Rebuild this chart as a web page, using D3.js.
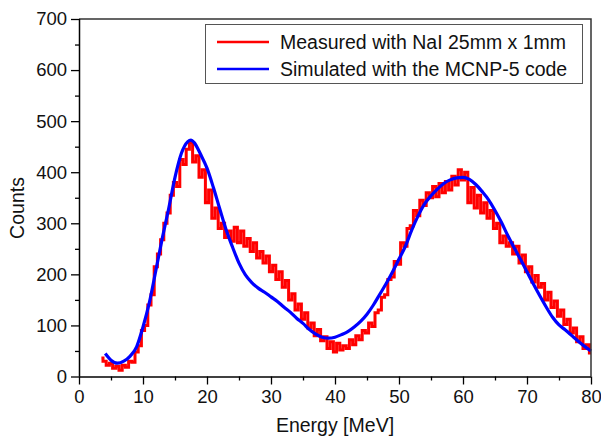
<!DOCTYPE html>
<html><head><meta charset="utf-8">
<script src="https://cdn.jsdelivr.net/npm/d3@7"></script>
<style>body{margin:0;background:#fff}svg{display:block}text{font-family:"Liberation Sans",Arial,sans-serif}</style>
</head><body>
<svg id="c" width="601" height="437"></svg>
<script>
// Measured (red), 0.5 MeV bins starting at 3.5 MeV
const measuredStart = 3.5, measuredStep = 0.5;
const measuredCounts = [36,30,22,26,16,20,12,22,18,30,28,48,60,90,100,140,160,215,240,268,300,320,355,380,372,425,415,445,458,420,432,390,405,340,365,310,330,290,300,272,285,265,292,262,285,255,270,245,262,232,245,222,236,205,218,190,205,175,188,150,162,130,142,112,125,95,105,80,92,70,78,55,68,48,65,52,60,55,72,62,80,72,90,85,105,98,125,130,155,160,190,195,225,220,262,255,290,295,325,315,345,335,360,350,372,352,378,360,382,365,392,375,405,385,400,340,370,330,355,320,340,310,325,290,300,262,275,255,262,240,255,222,238,205,215,185,198,175,182,150,165,135,148,118,130,102,112,85,95,68,78,55,62,46];
// Simulated (blue)
const simEnergy = [4.1,5,6,7,8,9,10,11,12,13,14,15,16,17,17.5,18,19,20,21,22,23,24,25,26,27,28,29,30,31,32,33,34,35,36,37,38,39,40,41,42,43,44,45,46,47,48,49,50,51,52,53,54,55,56,57,58,59,60,61,62,63,64,65,66,67,68,69,70,71,72,73,74,75,76,77,78,79,80];
const simCounts = [45,32,26,30,40,58,97,145,207,270,328,390,437,460,463,458,435,408,370,328,287,253,222,199,184,173,165,156,147,136,126,114,104,92,83,77,75,77,82,88,97,108,122,140,161,182,205,230,255,287,315,338,354,367,378,385,389,390,386,376,362,346,325,302,276,252,229,205,181,158,136,116,101,91,80,69,59,50];
const xTicks = [0,10,20,30,40,50,60,70,80];
const yTicks = [0,100,200,300,400,500,600,700];
const legendLabels = ["Measured with NaI 25mm x 1mm","Simulated with the MCNP-5 code"];
const colors = ["#ff0000","#0000ff"];

const svg = d3.select("#c");
const L=79, R=591, T=19, B=376.5;
const x = d3.scaleLinear().domain([0,80]).range([L,R]);
const y = d3.scaleLinear().domain([0,700]).range([B,T]);

const measured = measuredCounts.map((c,i)=>({e:measuredStart+i*measuredStep,c}));
const sim = simEnergy.map((e,i)=>({e,c:simCounts[i]}));

const g = svg.append("g");
g.append("path").datum(measured)
  .attr("d", d3.line().x(d=>x(d.e)).y(d=>y(d.c)).curve(d3.curveStep))
  .attr("fill","none").attr("stroke",colors[0]).attr("stroke-width",3).attr("stroke-linejoin","miter");
g.append("path").datum(sim)
  .attr("d", d3.line().x(d=>x(d.e)).y(d=>y(d.c)).curve(d3.curveMonotoneX))
  .attr("fill","none").attr("stroke",colors[1]).attr("stroke-width",3.2);

// frame
svg.append("path").attr("d",`M${L},${T}H${R}V${B}`).attr("fill","none").attr("stroke","#333").attr("stroke-width",1.5);

// axes
const xa = svg.append("g").attr("transform",`translate(0,${B})`)
  .call(d3.axisBottom(x).tickValues(xTicks).tickSize(8).tickPadding(5).tickFormat(d3.format("d")));
svg.append("g").attr("transform",`translate(0,${B})`)
  .call(d3.axisBottom(x).tickValues(d3.range(5,80,10)).tickSize(4).tickFormat(""))
  .call(s=>s.select(".domain").remove());
const ya = svg.append("g").attr("transform",`translate(${L},0)`)
  .call(d3.axisLeft(y).tickValues(yTicks).tickSize(8).tickPadding(4).tickFormat(d3.format("d")));
svg.append("g").attr("transform",`translate(${L},0)`)
  .call(d3.axisLeft(y).tickValues(d3.range(50,700,100)).tickSize(4).tickFormat(""))
  .call(s=>s.select(".domain").remove());
svg.selectAll(".domain").attr("stroke","#000").attr("stroke-width",1.5);
svg.selectAll(".tick line").attr("stroke","#000").attr("stroke-width",1.3);
svg.selectAll(".tick text").attr("font-size",18.5).attr("fill","#111").style("font-family","Liberation Sans, Arial, sans-serif");
xa.selectAll(".domain").attr("d",`M${L},0.5H${R}`);
ya.selectAll(".domain").attr("d",`M0.5,${B}V${T}`);

svg.append("text").attr("x",(L+R)/2).attr("y",432).attr("text-anchor","middle").attr("font-size",19.5).attr("fill","#111").text("Energy [MeV]");
svg.append("text").attr("transform","translate(24,208) rotate(-90)").attr("text-anchor","middle").attr("font-size",19.5).attr("fill","#111").text("Counts");

// legend
const lg = svg.append("g");
lg.append("rect").attr("x",205.5).attr("y",24.5).attr("width",377).attr("height",59).attr("fill","#fff").attr("stroke","#555").attr("stroke-width",1);
legendLabels.forEach((t,i)=>{
  const yy = 42 + i*27;
  lg.append("line").attr("x1",217).attr("x2",269).attr("y1",yy).attr("y2",yy).attr("stroke",colors[i]).attr("stroke-width",2.5);
  lg.append("text").attr("x",280).attr("y",yy+7).attr("font-size",19.5).attr("fill","#111").text(t);
});
</script>
</body></html>
